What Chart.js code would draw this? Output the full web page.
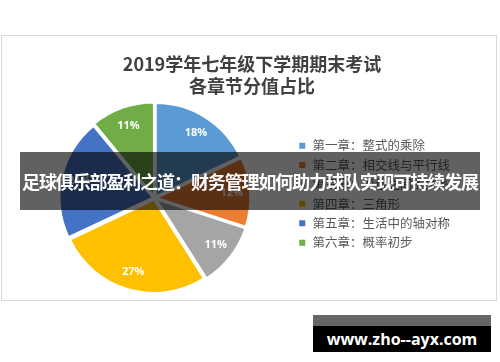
<!DOCTYPE html>
<html>
<head>
<meta charset="utf-8">
<script src="https://cdn.jsdelivr.net/npm/chart.js@4.4.0/dist/chart.umd.min.js"></script>
<style>
  body { margin: 0; background: #fff; font-family: "Noto Sans CJK SC", sans-serif; }
  #wrap { position: relative; width: 500px; height: 362px; overflow: hidden; }
  #card { position: absolute; left: 1px; top: 35px; width: 496px; height: 266px; border: 1px solid #d9d9d9; box-sizing: border-box; }
  #canvas { position: absolute; left: 0; top: 0; }
  #banner { position: absolute; left: 20px; top: 152px; width: 460px; height: 58px; background: rgba(0,0,0,0.62); text-align: center; }
  #banner span { color: #fff; font-weight: bold; font-size: 18px; line-height: 58px; white-space: nowrap; display: inline-block; }
  #mark { position: absolute; left: 313px; top: 315px; width: 178px; height: 37px; background: #000; }
  #mark .strip { height: 11px; background: #666; }
  #mark .txt { color: #fff; font-family: "Open Sans", "DejaVu Sans", sans-serif; font-weight: bold; font-size: 16px; line-height: 26px; text-align: center; }
</style>
</head>
<body>
<div id="wrap">
  <div id="card"></div>
  <canvas id="canvas" width="500" height="362"></canvas>
  <div id="banner"><span id="bannerText">足球俱乐部盈利之道：财务管理如何助力球队实现可持续发展</span></div>
  <div id="mark"><div class="strip"></div><div class="txt">www.zho--ayx.com</div></div>
</div>
<script>
var chapters = ['第一章：整式的乘除', '第二章：相交线与平行线', '第三章：变量之间的关系', '第四章：三角形', '第五章：生活中的轴对称', '第六章：概率初步'];
var shares = [18, 12, 11, 27, 21, 11];
var colors = ['#5B9BD5', '#ED7D31', '#A5A5A5', '#FFC000', '#4472C4', '#70AD47'];
var titleLines = ['2019学年七年级下学期期末考试', '各章节分值占比'];

// title drawn centred on the card, not on the chart area
var cardTitle = {
  id: 'cardTitle',
  afterDraw: function(chart) {
    var ctx = chart.ctx;
    ctx.save();
    ctx.fillStyle = '#404040';
    ctx.font = 'bold 18px "Noto Sans CJK SC", sans-serif';
    ctx.textAlign = 'center';
    ctx.textBaseline = 'middle';
    ctx.fillText(titleLines[0], 252, 64);
    ctx.fillText(titleLines[1], 252, 86);
    ctx.restore();
  }
};

var pctLabels = {
  id: 'pctLabels',
  afterDatasetsDraw: function(chart) {
    var ctx = chart.ctx;
    var meta = chart.getDatasetMeta(0);
    ctx.save();
    ctx.fillStyle = '#fff';
    ctx.font = 'bold 11px "Open Sans", "DejaVu Sans", sans-serif';
    ctx.textAlign = 'center';
    ctx.textBaseline = 'middle';
    meta.data.forEach(function(arc, i) {
      var p = arc.getProps(['x', 'y', 'startAngle', 'endAngle', 'outerRadius']);
      var mid = (p.startAngle + p.endAngle) / 2;
      var r = p.outerRadius * 0.83;
      ctx.fillText(shares[i] + '%', p.x + Math.cos(mid) * r, p.y + Math.sin(mid) * r);
    });
    ctx.restore();
  }
};

function fitBanner() {
  var el = document.getElementById('bannerText');
  var n = el.textContent.length;
  var extra = (456 - el.getBoundingClientRect().width) / n;
  el.style.letterSpacing = extra + 'px';
}

function init() {
  fitBanner();
  var ctx = document.getElementById('canvas').getContext('2d');
  window.myPie = new Chart(ctx, {
    type: 'pie',
    data: {
      labels: chapters,
      datasets: [{
        data: shares,
        backgroundColor: colors,
        borderColor: '#fff',
        borderWidth: 2,
        offset: 8
      }]
    },
    plugins: [pctLabels, cardTitle],
    options: {
      responsive: false,
      animation: false,
      layout: { padding: { left: 18, right: 40, top: 100, bottom: 66 } },
      plugins: {
        tooltip: { enabled: false },
        title: { display: false },
        legend: {
          position: 'right',
          align: 'start',
          title: { display: true, text: ' ', font: { size: 10, lineHeight: 1.2 }, padding: { top: 20.5, bottom: 0 } },
          labels: {
            color: '#595959',
            font: { family: '"Noto Sans CJK SC", sans-serif', size: 12.5 },
            boxWidth: 8,
            boxHeight: 8,
            padding: 6.9
          }
        }
      }
    }
  });
}

window.onload = init;
</script>
</body>
</html>
